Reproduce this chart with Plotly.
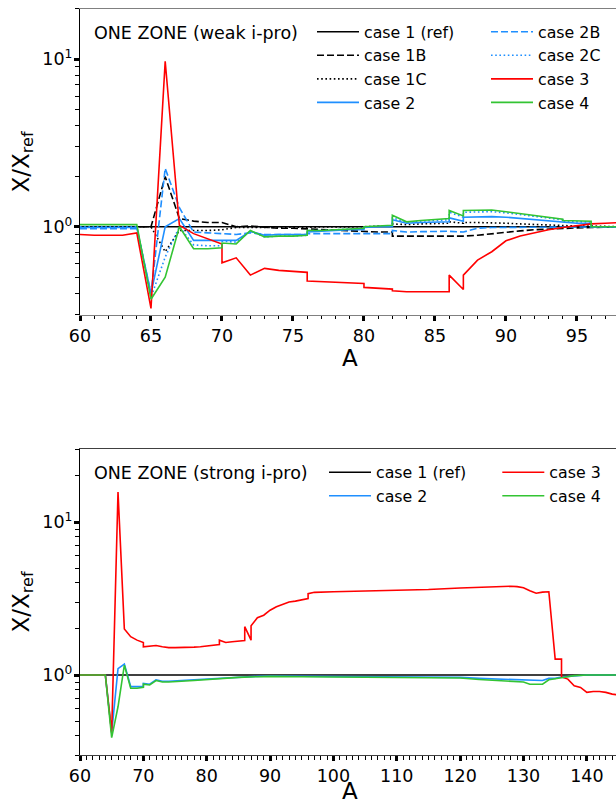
import plotly.graph_objects as go

# ---------------- data (A, X/Xref) ----------------
ref_line = [(60, 1.0), (146, 1.0)]

top_case1B = [(60,1.0),(61,1.0),(62,1.0),(63,1.0),(64,1.0),(65,1.0),(66,1.99),(67,1.12),(68,1.08),(69,1.06),(70,1.06),(71,1.0),(72,1.01),(73,0.99),(74,0.98),(75,0.98),(76,0.97),(77,0.96),(78,0.95),(79,0.94),(80,0.935),(81,0.93),(82,0.93),(82,0.88),(83,0.88),(84,0.88),(85,0.88),(86,0.88),(87,0.88),(88,0.89),(89,0.91),(90,0.93),(91,0.945),(92,0.96),(93,0.97),(94,0.98),(95,0.985),(96,0.99),(97,0.995),(98,1.0)]
top_case1C = [(60,1.0),(61,1.0),(62,1.0),(63,1.0),(64,1.0),(65,1.0),(66,0.71),(67,0.95),(68,0.95),(69,0.95),(70,0.96),(71,0.99),(72,0.99),(73,0.99),(74,0.99),(75,0.99),(76,0.99),(77,1.0),(78,1.0),(79,1.0),(80,1.0),(81,1.01),(82,1.01),(82,1.04),(83,1.03),(84,1.04),(85,1.04),(86,1.05),(86,1.07),(87,1.05),(87,1.06),(88,1.06),(89,1.06),(90,1.05),(91,1.04),(92,1.03),(93,1.03),(94,1.02),(95,1.01),(96,1.01),(97,1.0),(98,1.0)]
top_case2 = [(60,0.99),(61,0.99),(62,0.99),(63,0.99),(64,0.99),(65,0.40),(66,1.0),(67,1.12),(68,0.83),(69,0.83),(70,0.83),(71,0.83),(72,0.94),(73,0.89),(74,0.9),(75,0.9),(76,0.9),(76,0.93),(77,0.94),(78,0.95),(79,0.96),(80,0.96),(80,0.99),(81,1.0),(82,1.0),(82,1.1),(83,1.05),(84,1.06),(85,1.07),(86,1.07),(86,1.13),(87,1.08),(87,1.14),(88,1.15),(89,1.15),(90,1.14),(91,1.12),(92,1.1),(93,1.08),(94,1.06),(95,1.05),(96,1.05),(96,1.0),(97,1.0),(98,1.0)]
top_case2B = [(60,0.975),(61,0.975),(62,0.975),(63,0.975),(64,0.975),(65,0.40),(66,2.23),(67,1.3),(68,0.93),(69,0.92),(70,0.91),(71,0.9),(72,0.92),(73,0.9),(74,0.9),(75,0.9),(76,0.9),(76,0.91),(77,0.91),(78,0.91),(79,0.91),(80,0.91),(81,0.91),(82,0.91),(82,0.95),(83,0.93),(84,0.935),(85,0.94),(86,0.94),(87,0.93),(88,0.98),(89,0.99),(90,0.99),(91,0.99),(92,0.995),(93,0.995),(94,1.0),(95,1.0),(96,1.0),(97,1.0),(98,1.0)]
top_case2C = [(60,1.0),(61,1.0),(62,1.0),(63,1.0),(64,1.0),(65,0.38),(66,0.66),(67,1.0),(68,0.78),(69,0.77),(70,0.77),(70,0.82),(71,0.81),(72,0.94),(73,0.87),(74,0.88),(75,0.88),(76,0.89),(76,0.95),(77,0.95),(78,0.96),(79,0.97),(80,0.98),(80,1.0),(81,1.01),(82,1.01),(82,1.13),(83,1.06),(84,1.08),(85,1.09),(86,1.1),(86,1.22),(87,1.14),(87,1.22),(88,1.23),(89,1.23),(90,1.21),(91,1.18),(92,1.15),(93,1.12),(94,1.1),(94,1.07),(95,1.07),(96,1.07),(96,1.0),(97,1.0),(98,1.0)]
top_case3 = [(60,0.90),(61,0.89),(62,0.89),(63,0.89),(64,0.92),(65,0.326),(66,9.7),(67,1.02),(68,0.91),(69,0.85),(70,0.79),(70,0.61),(71,0.653),(72,0.515),(73,0.565),(74,0.55),(75,0.54),(76,0.535),(76,0.475),(77,0.47),(78,0.465),(79,0.46),(80,0.459),(80,0.435),(81,0.43),(82,0.425),(82,0.416),(83,0.41),(84,0.41),(85,0.41),(86,0.41),(86,0.515),(87,0.423),(87,0.515),(88,0.633),(89,0.71),(90,0.825),(91,0.88),(92,0.92),(93,0.96),(94,0.99),(95,1.02),(96,1.04),(97,1.05),(98,1.06)]
top_case4 = [(60,1.03),(61,1.03),(62,1.03),(63,1.03),(64,1.03),(65,0.37),(66,0.5),(67,1.0),(68,0.74),(69,0.74),(70,0.75),(70,0.8),(71,0.79),(72,0.95),(73,0.87),(74,0.88),(75,0.88),(76,0.89),(76,0.95),(77,0.95),(78,0.96),(79,0.97),(80,0.98),(80,1.0),(81,1.01),(82,1.02),(82,1.17),(83,1.07),(84,1.09),(85,1.11),(86,1.12),(86,1.25),(87,1.16),(87,1.25),(88,1.26),(89,1.26),(90,1.23),(91,1.2),(92,1.17),(93,1.14),(94,1.11),(94,1.09),(95,1.08),(96,1.08),(96,1.0),(97,1.0),(98,1.0)]

bot_case2 = [(60,1.0),(61,1.0),(62,1.0),(63,1.0),(64,1.0),(65,0.42),(66,1.1),(67,1.18),(68,0.84),(69,0.84),(70,0.84),(70,0.88),(71,0.87),(72,0.93),(73,0.91),(74,0.91),(75,0.92),(76,0.92),(78,0.93),(80,0.94),(82,0.95),(85,0.97),(88,0.98),(90,0.985),(95,0.98),(100,0.975),(110,0.97),(115,0.97),(120,0.965),(123,0.95),(126,0.94),(128,0.94),(130,0.93),(131,0.92),(133,0.92),(134,0.95),(135,0.95),(136,0.97),(138,0.99),(140,1.0),(146,1.0)]
bot_case3 = [(60,1.0),(61,1.0),(62,1.0),(63,1.0),(64,1.0),(65,0.42),(66,15.7),(67,2.0),(68,1.78),(69,1.69),(70,1.63),(70,1.53),(71,1.55),(72,1.56),(73,1.53),(74,1.51),(75,1.51),(76,1.51),(77,1.52),(78,1.52),(79,1.53),(80,1.55),(81,1.56),(82,1.58),(82,1.69),(83,1.63),(84,1.65),(85,1.67),(86,1.68),(86,2.07),(87,1.69),(87,2.1),(88,2.37),(89,2.46),(90,2.65),(91,2.79),(92,2.9),(93,3.0),(94,3.04),(95,3.1),(96,3.16),(96,3.4),(97,3.47),(100,3.5),(105,3.53),(110,3.56),(115,3.62),(120,3.7),(122,3.73),(124,3.78),(126,3.8),(128,3.8),(129,3.78),(130,3.72),(131,3.55),(132,3.42),(133,3.48),(134,3.5),(135,1.27),(136,1.27),(136,0.97),(137,0.94),(138,0.85),(139,0.83),(140,0.77),(141,0.78),(142,0.78),(143,0.77),(144,0.75),(145,0.74)]
bot_case4 = [(60,1.0),(61,1.0),(62,1.0),(63,1.0),(64,1.0),(65,0.39),(66,0.62),(67,1.16),(68,0.82),(69,0.82),(70,0.83),(70,0.87),(71,0.86),(72,0.92),(73,0.9),(74,0.9),(75,0.91),(76,0.91),(78,0.92),(80,0.935),(82,0.95),(85,0.965),(88,0.975),(90,0.98),(95,0.975),(100,0.97),(110,0.965),(115,0.96),(120,0.955),(123,0.935),(126,0.92),(128,0.915),(130,0.9),(131,0.87),(133,0.87),(134,0.93),(135,0.94),(136,0.96),(138,0.99),(140,1.0),(146,1.0)]

top_title = "ONE ZONE (weak i-pro)"
bot_title = "ONE ZONE (strong i-pro)"
top_xticks = [60, 65, 70, 75, 80, 85, 90, 95]
bot_xticks = [60, 70, 80, 90, 100, 110, 120, 130, 140]
y_major = [1, 10]
y_major_text = ["10<sup>0</sup>", "10<sup>1</sup>"]
top_y_minor = [0.3, 0.4, 0.5, 0.6, 0.7, 0.8, 0.9, 2, 3, 4, 5, 6, 7, 8, 9, 20]
bot_y_minor = [0.3, 0.4, 0.5, 0.6, 0.7, 0.8, 0.9, 2, 3, 4, 5, 6, 7, 8, 9, 20, 30]

# ---------------- styles ----------------
BLACK = "#000000"
BLUE = "#1f8fff"
RED = "#ff0000"
GREEN = "#33c433"
LW = 1.6
DASH = "7px,3px"
DOT = "1.6px,2.6px"
FONT = "DejaVu Sans"

W, H = 616, 806
L = 80


def xs(d):
    return [p[0] for p in d]


def ys(d):
    return [p[1] for p in d]


fig = go.Figure()

top_series = [
    ("case 1 (ref)", ref_line, BLACK, "solid", "legend", 1),
    ("case 1B", top_case1B, BLACK, DASH, "legend", 2),
    ("case 1C", top_case1C, BLACK, DOT, "legend", 3),
    ("case 2", top_case2, BLUE, "solid", "legend", 4),
    ("case 2B", top_case2B, BLUE, DASH, "legend2", 1),
    ("case 2C", top_case2C, BLUE, DOT, "legend2", 2),
    ("case 3", top_case3, RED, "solid", "legend2", 3),
    ("case 4", top_case4, GREEN, "solid", "legend2", 4),
]
for name, d, c, dash, leg, rk in top_series:
    fig.add_trace(go.Scatter(x=xs(d), y=ys(d), mode="lines", name=name,
                             line=dict(color=c, width=LW, dash=dash),
                             xaxis="x", yaxis="y", legend=leg, legendrank=rk))

bot_series = [
    ("case 1 (ref)", ref_line, BLACK, "legend3", 1),
    ("case 2", bot_case2, BLUE, "legend3", 2),
    ("case 3", bot_case3, RED, "legend4", 1),
    ("case 4", bot_case4, GREEN, "legend4", 2),
]
for name, d, c, leg, rk in bot_series:
    fig.add_trace(go.Scatter(x=xs(d), y=ys(d), mode="lines", name=name,
                             line=dict(color=c, width=LW),
                             xaxis="x2", yaxis="y2", legend=leg, legendrank=rk))


def fy(py):
    return 1 - py / H


def fx(px):
    return (px - L) / (W - L)


tickfont = dict(family=FONT, size=17.5, color="black")

common_x = dict(showgrid=False, zeroline=False, ticks="outside", ticklen=5, tickwidth=3,
                tickcolor="black", tickfont=tickfont, automargin=False,
                showline=True, linewidth=1.3, mirror=True)
common_y = dict(type="log", showgrid=False, zeroline=False, ticks="outside", ticklen=5,
                tickwidth=3, tickcolor="black", tickfont=tickfont, automargin=False,
                showline=True, linecolor="black", linewidth=1.3, mirror=False,
                ticklabelstandoff=-2,
                tickmode="array", tickvals=y_major, ticktext=y_major_text)

leg_common = dict(font=dict(family=FONT, size=15.8, color="black"), bgcolor="rgba(0,0,0,0)",
                  borderwidth=0, xanchor="left", yanchor="top", orientation="v",
                  tracegroupgap=0, itemwidth=42)

fig.update_layout(
    width=W, height=H,
    margin=dict(l=L, r=0, t=0, b=0, autoexpand=False),
    plot_bgcolor="white", paper_bgcolor="white",
    font=dict(family=FONT, color="black"),
    xaxis=dict(domain=[0, 1], anchor="y", range=[60, 97.75],
               tickmode="array", tickvals=top_xticks, linecolor="#808080",
               minor=dict(dtick=1, tick0=60, ticks="outside", ticklen=3.5, tickwidth=1, tickcolor="black"),
               **common_x),
    yaxis=dict(domain=[fy(314.5), fy(8.5)], anchor="x",
               range=[-0.5229, 1.3010],
               minor=dict(tickmode="array", tickvals=top_y_minor, ticks="outside",
                          ticklen=4, tickwidth=1, tickcolor="black"),
               **common_y),
    xaxis2=dict(domain=[0, 1], anchor="y2", range=[60, 144.6],
                tickmode="array", tickvals=bot_xticks, linecolor="#404040",
                minor=dict(dtick=1, tick0=60, ticks="outside", ticklen=3.5, tickwidth=1, tickcolor="black"),
                **common_x),
    yaxis2=dict(domain=[fy(755), fy(449)], anchor="x2",
                range=[-0.5229, 1.4771],
                minor=dict(tickmode="array", tickvals=bot_y_minor, ticks="outside",
                           ticklen=4, tickwidth=1, tickcolor="black"),
                **common_y),
    legend=dict(x=fx(312), y=fy(15), **leg_common),
    legend2=dict(x=fx(486), y=fy(15), **leg_common),
    legend3=dict(x=fx(324), y=fy(455.5), **leg_common),
    legend4=dict(x=fx(497.3), y=fy(455.5), **leg_common),
    showlegend=True,
)

ann_font_title = dict(family=FONT, size=17.5, color="black")
ann_font_axis = dict(family=FONT, size=23, color="black")
annotations = [
    dict(text=top_title, x=fx(91.7), y=fy(33.3), xanchor="left", yanchor="middle", font=ann_font_title),
    dict(text=bot_title, x=fx(91.7), y=fy(473.3), xanchor="left", yanchor="middle", font=ann_font_title),
    dict(text="X/X<sub>ref</sub>", x=fx(22), y=fy(162.5), textangle=-90, xanchor="center", yanchor="middle", font=ann_font_axis),
    dict(text="X/X<sub>ref</sub>", x=fx(22), y=fy(602.5), textangle=-90, xanchor="center", yanchor="middle", font=ann_font_axis),
    dict(text="A", x=fx(350), y=fy(358), xanchor="center", yanchor="middle", font=ann_font_axis),
    dict(text="A", x=fx(350), y=fy(806), xanchor="center", yanchor="bottom", font=ann_font_axis),
]
for a in annotations:
    a.update(xref="paper", yref="paper", showarrow=False)
fig.update_layout(annotations=annotations)

fig.write_html("out.html", config={"displayModeBar": False},
               post_script="document.body.style.margin='0px';")
